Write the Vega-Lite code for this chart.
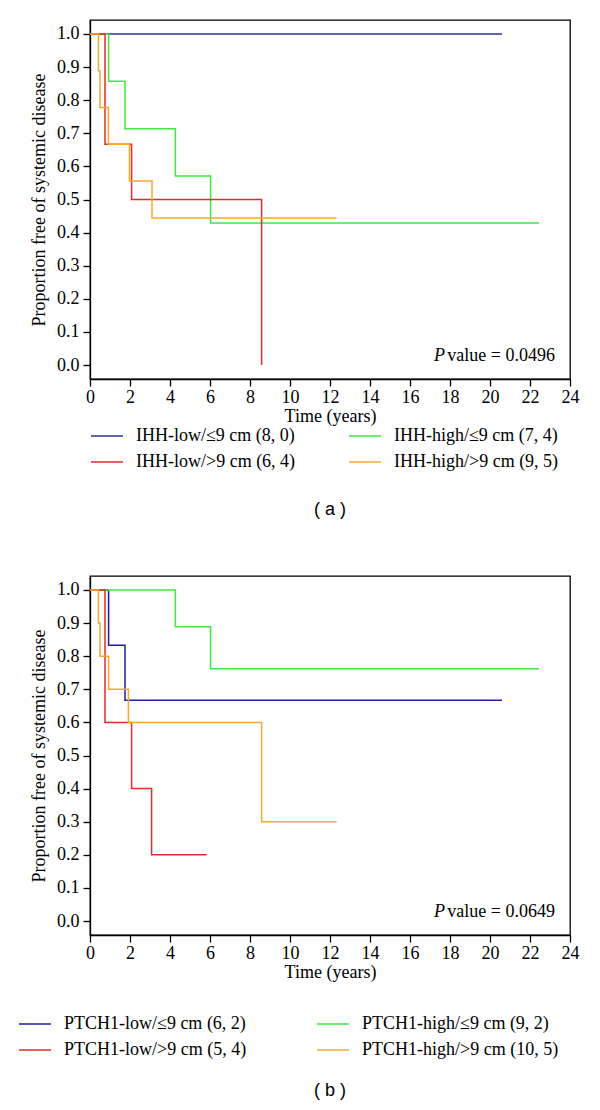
{
  "$schema": "https://vega.github.io/schema/vega-lite/v6.json",
  "padding": {"left": 17, "top": 19, "right": 5, "bottom": 5},
  "background": "white",
  "config": {
    "font": "Liberation Serif",
    "view": {"stroke": "black", "strokeWidth": 1.3},
    "axis": {
      "grid": false,
      "domainColor": "black",
      "domainWidth": 1.3,
      "tickColor": "black",
      "tickWidth": 1.3,
      "tickSize": 7,
      "labelFont": "Liberation Serif",
      "labelFontSize": 18,
      "labelColor": "black",
      "labelOverlap": false,
      "labelFlush": false,
      "titleFont": "Liberation Serif",
      "titleFontSize": 18,
      "titleFontWeight": "normal",
      "titleColor": "black"
    },
    "legend": {
      "labelFont": "Liberation Serif",
      "labelFontSize": 18,
      "labelColor": "black",
      "labelLimit": 400,
      "symbolType": "stroke",
      "symbolSize": 1024,
      "symbolStrokeWidth": 1.5,
      "labelOffset": 12,
      "rowPadding": -9,
      "columns": 2
    },
    "title": {"font": "Liberation Sans", "fontSize": 18, "fontWeight": "normal", "color": "black"}
  },
  "bounds": "flush",
  "spacing": 197,
  "resolve": {"scale": {"color": "independent"}, "legend": {"color": "independent"}},
  "vconcat": [
    {
      "width": 480,
      "height": 359,
      "title": {"text": "( a )", "orient": "bottom", "offset": 30},
      "encoding": {
        "x": {"field": "time", "type": "quantitative", "scale": {"domain": [0, 24], "nice": false}, "axis": {"values": [0,2,4,6,8,10,12,14,16,18,20,22,24], "title": "Time (years)", "labelPadding": 2, "titlePadding": 1}},
        "y": {"field": "p", "type": "quantitative", "scale": {"domain": [-0.042, 1.042], "nice": false, "zero": false}, "axis": {"values": [0,0.1,0.2,0.3,0.4,0.5,0.6,0.7,0.8,0.9,1], "format": ".1f", "title": "Proportion free of systemic disease", "labelPadding": 4, "titlePadding": 8}}
      },
      "layer": [
        {
          "data": {"values": [
            {"group": "IHH-low/≤9 cm (8, 0)", "time": 0, "p": 1},
            {"group": "IHH-low/≤9 cm (8, 0)", "time": 20.6, "p": 1},
            {"group": "IHH-high/≤9 cm (7, 4)", "time": 0, "p": 1},
            {"group": "IHH-high/≤9 cm (7, 4)", "time": 0.93, "p": 0.857},
            {"group": "IHH-high/≤9 cm (7, 4)", "time": 1.75, "p": 0.714},
            {"group": "IHH-high/≤9 cm (7, 4)", "time": 4.27, "p": 0.571},
            {"group": "IHH-high/≤9 cm (7, 4)", "time": 6.03, "p": 0.429},
            {"group": "IHH-high/≤9 cm (7, 4)", "time": 22.45, "p": 0.429},
            {"group": "IHH-low/>9 cm (6, 4)", "time": 0, "p": 1},
            {"group": "IHH-low/>9 cm (6, 4)", "time": 0.75, "p": 0.667},
            {"group": "IHH-low/>9 cm (6, 4)", "time": 2.08, "p": 0.5},
            {"group": "IHH-low/>9 cm (6, 4)", "time": 8.58, "p": 0},
            {"group": "IHH-high/>9 cm (9, 5)", "time": 0, "p": 1},
            {"group": "IHH-high/>9 cm (9, 5)", "time": 0.42, "p": 0.889},
            {"group": "IHH-high/>9 cm (9, 5)", "time": 0.5, "p": 0.778},
            {"group": "IHH-high/>9 cm (9, 5)", "time": 0.92, "p": 0.667},
            {"group": "IHH-high/>9 cm (9, 5)", "time": 1.97, "p": 0.556},
            {"group": "IHH-high/>9 cm (9, 5)", "time": 3.1, "p": 0.444},
            {"group": "IHH-high/>9 cm (9, 5)", "time": 12.33, "p": 0.444}
          ]},
          "mark": {"type": "line", "interpolate": "step-after", "strokeWidth": 1.5},
          "encoding": {
            "color": {"field": "group", "type": "nominal",
              "scale": {"domain": ["IHH-low/≤9 cm (8, 0)", "IHH-low/>9 cm (6, 4)", "IHH-high/≤9 cm (7, 4)", "IHH-high/>9 cm (9, 5)"], "range": ["#32328e", "#e42a2a", "#3ee83e", "#f7a82a"]},
              "legend": {"title": null, "orient": "none", "legendX": 0, "legendY": 399, "columnPadding": 50}}
          }
        },
        {
          "data": {"values": [{"time": 23.25, "p": 0.027, "label": "P"}]},
          "mark": {"type": "text", "fontStyle": "italic", "align": "right", "baseline": "middle", "fontSize": 18, "font": "Liberation Serif", "color": "black", "dx": -110},
          "encoding": {"text": {"field": "label"}}
        },
        {
          "data": {"values": [{"time": 23.25, "p": 0.027, "label": "value = 0.0496"}]},
          "mark": {"type": "text", "align": "right", "baseline": "middle", "fontSize": 18, "font": "Liberation Serif", "color": "black"},
          "encoding": {"text": {"field": "label"}}
        }
      ]
    },
    {
      "width": 480,
      "height": 359,
      "title": {"text": "( b )", "orient": "bottom", "offset": 23},
      "encoding": {
        "x": {"field": "time", "type": "quantitative", "scale": {"domain": [0, 24], "nice": false}, "axis": {"values": [0,2,4,6,8,10,12,14,16,18,20,22,24], "title": "Time (years)", "labelPadding": 2, "titlePadding": 1}},
        "y": {"field": "p", "type": "quantitative", "scale": {"domain": [-0.042, 1.042], "nice": false, "zero": false}, "axis": {"values": [0,0.1,0.2,0.3,0.4,0.5,0.6,0.7,0.8,0.9,1], "format": ".1f", "title": "Proportion free of systemic disease", "labelPadding": 4, "titlePadding": 8}}
      },
      "layer": [
        {
          "data": {"values": [
            {"group": "PTCH1-low/≤9 cm (6, 2)", "time": 0, "p": 1},
            {"group": "PTCH1-low/≤9 cm (6, 2)", "time": 0.93, "p": 0.833},
            {"group": "PTCH1-low/≤9 cm (6, 2)", "time": 1.75, "p": 0.667},
            {"group": "PTCH1-low/≤9 cm (6, 2)", "time": 20.6, "p": 0.667},
            {"group": "PTCH1-high/≤9 cm (9, 2)", "time": 0, "p": 1},
            {"group": "PTCH1-high/≤9 cm (9, 2)", "time": 4.27, "p": 0.889},
            {"group": "PTCH1-high/≤9 cm (9, 2)", "time": 6.03, "p": 0.762},
            {"group": "PTCH1-high/≤9 cm (9, 2)", "time": 22.45, "p": 0.762},
            {"group": "PTCH1-low/>9 cm (5, 4)", "time": 0, "p": 1},
            {"group": "PTCH1-low/>9 cm (5, 4)", "time": 0.75, "p": 0.6},
            {"group": "PTCH1-low/>9 cm (5, 4)", "time": 2.08, "p": 0.4},
            {"group": "PTCH1-low/>9 cm (5, 4)", "time": 3.08, "p": 0.2},
            {"group": "PTCH1-low/>9 cm (5, 4)", "time": 5.83, "p": 0.2},
            {"group": "PTCH1-high/>9 cm (10, 5)", "time": 0, "p": 1},
            {"group": "PTCH1-high/>9 cm (10, 5)", "time": 0.42, "p": 0.9},
            {"group": "PTCH1-high/>9 cm (10, 5)", "time": 0.5, "p": 0.8},
            {"group": "PTCH1-high/>9 cm (10, 5)", "time": 0.93, "p": 0.7},
            {"group": "PTCH1-high/>9 cm (10, 5)", "time": 1.92, "p": 0.6},
            {"group": "PTCH1-high/>9 cm (10, 5)", "time": 8.58, "p": 0.3},
            {"group": "PTCH1-high/>9 cm (10, 5)", "time": 12.33, "p": 0.3}
          ]},
          "mark": {"type": "line", "interpolate": "step-after", "strokeWidth": 1.5},
          "encoding": {
            "color": {"field": "group", "type": "nominal",
              "scale": {"domain": ["PTCH1-low/≤9 cm (6, 2)", "PTCH1-low/>9 cm (5, 4)", "PTCH1-high/≤9 cm (9, 2)", "PTCH1-high/>9 cm (10, 5)"], "range": ["#1f1fa0", "#e42a2a", "#3ee83e", "#f7a82a"]},
              "legend": {"title": null, "orient": "none", "legendX": -72, "legendY": 431, "columnPadding": 67}}
          }
        },
        {
          "data": {"values": [{"time": 23.25, "p": 0.027, "label": "P"}]},
          "mark": {"type": "text", "fontStyle": "italic", "align": "right", "baseline": "middle", "fontSize": 18, "font": "Liberation Serif", "color": "black", "dx": -110},
          "encoding": {"text": {"field": "label"}}
        },
        {
          "data": {"values": [{"time": 23.25, "p": 0.027, "label": "value = 0.0649"}]},
          "mark": {"type": "text", "align": "right", "baseline": "middle", "fontSize": 18, "font": "Liberation Serif", "color": "black"},
          "encoding": {"text": {"field": "label"}}
        }
      ]
    }
  ]
}
